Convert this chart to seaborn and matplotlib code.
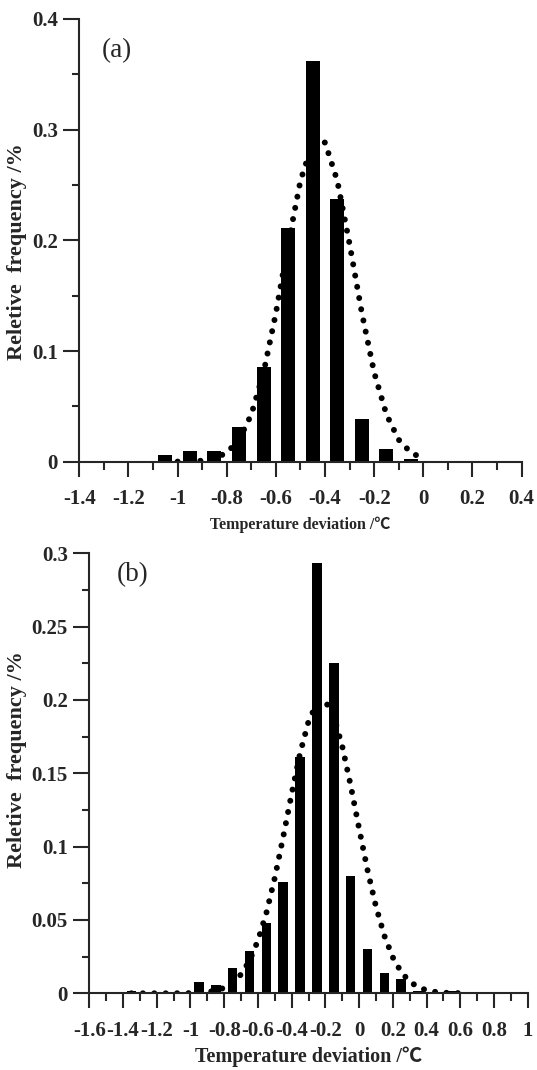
import numpy as np
import matplotlib
matplotlib.use("Agg")
import matplotlib.pyplot as plt
from matplotlib.ticker import MultipleLocator
import seaborn as sns

# ---------------- data: panel (a) ----------------
centers_a = [-1.05, -0.95, -0.85, -0.75, -0.65, -0.55, -0.45, -0.35, -0.25, -0.15, -0.05]
freq_a = [0.0063, 0.0096, 0.0096, 0.031, 0.086, 0.211, 0.362, 0.2375, 0.0386, 0.0118, 0.002]
curve_x_a = [-1.00, -0.95, -0.90, -0.85, -0.80, -0.75, -0.70, -0.65, -0.60, -0.55, -0.50,
             -0.45, -0.40, -0.35, -0.30, -0.25, -0.20, -0.15, -0.10, -0.05, 0.00]
curve_y_a = [0.0001, 0.0003, 0.0009, 0.0029, 0.0081, 0.0198, 0.0426, 0.0806, 0.1342, 0.1966, 0.2538,
             0.2884, 0.2884, 0.2538, 0.1966, 0.1342, 0.0806, 0.0426, 0.0198, 0.0081, 0.0029]
xticks_a = [-1.4, -1.2, -1.0, -0.8, -0.6, -0.4, -0.2, 0.0, 0.2, 0.4]
xticklabels_a = ["-1.4", "-1.2", "-1", "-0.8", "-0.6", "-0.4", "-0.2", "0", "0.2", "0.4"]
yticks_a = [0.0, 0.1, 0.2, 0.3, 0.4]
yticklabels_a = ["0", "0.1", "0.2", "0.3", "0.4"]

# ---------------- data: panel (b) ----------------
centers_b = [-1.35, -1.25, -1.15, -1.05, -0.95, -0.85, -0.75, -0.65, -0.55, -0.45,
             -0.35, -0.25, -0.15, -0.05, 0.05, 0.15, 0.25, 0.35, 0.45, 0.55]
freq_b = [0.0017, 0.0, 0.0, 0.0, 0.0079, 0.0059, 0.0173, 0.0287, 0.0477, 0.0759,
          0.161, 0.2936, 0.2253, 0.0799, 0.0304, 0.0136, 0.0096, 0.0015, 0.0008, 0.0017]
curve_x_b = [-1.35, -1.30, -1.25, -1.20, -1.15, -1.10, -1.05, -1.00, -0.95, -0.90,
             -0.85, -0.80, -0.75, -0.70, -0.65, -0.60, -0.55, -0.50, -0.45, -0.40,
             -0.35, -0.30, -0.25, -0.20, -0.15, -0.10, -0.05, 0.00, 0.05, 0.10,
             0.15, 0.20, 0.25, 0.30, 0.35, 0.40, 0.45, 0.50, 0.55, 0.60]
curve_y_b = [0.0, 0.0, 0.0, 0.0, 0.0, 0.0, 0.0001, 0.0001, 0.0004, 0.0008,
             0.0018, 0.0037, 0.0071, 0.0129, 0.0222, 0.0359, 0.0547, 0.0787, 0.1066, 0.1360,
             0.1636, 0.1853, 0.1979, 0.1991, 0.1887, 0.1685, 0.1418, 0.1124, 0.0840, 0.0592,
             0.0392, 0.0245, 0.0144, 0.0080, 0.0042, 0.0021, 0.0010, 0.0004, 0.0002, 0.0001]
xticks_b = [-1.6, -1.4, -1.2, -1.0, -0.8, -0.6, -0.4, -0.2, 0.0, 0.2, 0.4, 0.6, 0.8, 1.0]
xticklabels_b = ["-1.6", "-1.4", "-1.2", "-1", "-0.8", "-0.6", "-0.4", "-0.2", "0",
                 "0.2", "0.4", "0.6", "0.8", "1"]
yticks_b = [0.0, 0.05, 0.1, 0.15, 0.2, 0.25, 0.3]
yticklabels_b = ["0", "0.05", "0.1", "0.15", "0.2", "0.25", "0.3"]

ylabel_text = "Reletive  frequency /%"
xlabel_text = "Temperature deviation /\u2103"

# ---------------- style ----------------
sns.set_style("ticks")
plt.rcParams["font.family"] = ["Liberation Serif", "Noto Sans CJK SC", "DejaVu Sans"]
plt.rcParams["axes.linewidth"] = 1.5

W, H = 537, 1070
fig = plt.figure(figsize=(W / 100, H / 100), dpi=100)

ax_a = fig.add_axes([79.3 / W, 1 - 461.7 / H, 442.3 / W, 442.7 / H])
ax_b = fig.add_axes([89.3 / W, 1 - 993.3 / H, 438.4 / W, 440.0 / H])

TICK_FS = 15


def draw_panel(ax, centers, freq, cx, cy, xlim, ylim, xt, xtl, yt, ytl, yminor,
               tag, tag_pos, xlab_fs, xlab_y, ylab_pos):
    edges = [round(c - 0.05, 3) for c in centers] + [round(centers[-1] + 0.05, 3)]
    sns.histplot(x=centers, weights=freq, bins=edges, shrink=0.57, color="black",
                 alpha=1, linewidth=0, stat="count", ax=ax)
    sns.lineplot(x=cx, y=cy, ax=ax, color="black", linewidth=4.3, sort=False,
                 linestyle=(0, (0.01, 1.9)), dash_capstyle="round")
    ax.set_xlim(*xlim)
    ax.set_ylim(*ylim)
    sns.despine(ax=ax)
    ax.spines["left"].set_linewidth(1.5)
    ax.spines["bottom"].set_linewidth(1.5)
    ax.set_xticks(xt)
    ax.set_xticklabels(xtl, fontsize=TICK_FS, fontweight="bold")
    ax.set_yticks(yt)
    ax.set_yticklabels(ytl, fontsize=TICK_FS, fontweight="bold")
    ax.xaxis.set_minor_locator(MultipleLocator(0.1))
    ax.yaxis.set_minor_locator(MultipleLocator(yminor))
    ax.tick_params(axis="x", which="major", direction="out", length=11, width=1.5, pad=9)
    ax.tick_params(axis="x", which="minor", direction="out", length=5.5, width=1.5)
    ax.tick_params(axis="y", which="major", direction="out", length=11.5, width=1.5, pad=4)
    ax.tick_params(axis="y", which="minor", direction="out", length=5, width=1.5)
    ax.set_xlabel(xlabel_text, fontsize=xlab_fs, fontweight="bold", va="center")
    ax.xaxis.set_label_coords(0.5, xlab_y)
    ax.set_ylabel(ylabel_text, fontsize=16, fontweight="bold", va="center")
    ax.yaxis.set_label_coords(*ylab_pos)
    ax.text(tag_pos[0], tag_pos[1], tag, transform=ax.transAxes, fontsize=19.5,
            ha="center", va="center")
    ax.set_facecolor("white")


draw_panel(ax_a, centers_a, freq_a, curve_x_a, curve_y_a, (-1.4, 0.4), (0, 0.4),
           xticks_a, xticklabels_a, yticks_a, yticklabels_a, 0.05,
           "(a)", (0.085, 0.928), 11.5, -0.143, (-0.141, 0.474))
draw_panel(ax_b, centers_b, freq_b, curve_x_b, curve_y_b, (-1.6, 1.0), (0, 0.3),
           xticks_b, xticklabels_b, yticks_b, yticklabels_b, 0.025,
           "(b)", (0.0985, 0.951), 14.5, -0.145, (-0.165, 0.532))

fig.savefig("out.png", dpi=100, facecolor="white")
